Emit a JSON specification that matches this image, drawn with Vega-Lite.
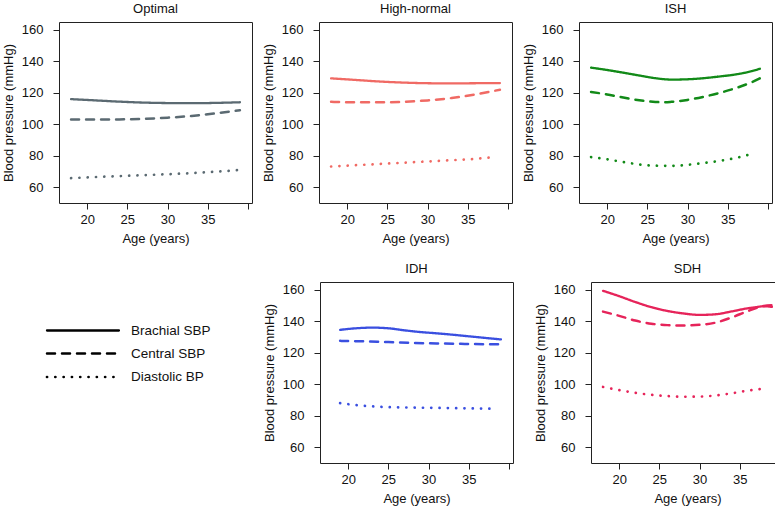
{
"$schema": "https://vega.github.io/schema/vega-lite/v6.json",
"background": "white",
"padding": {"left": 1, "top": 2, "right": 0, "bottom": 0},
"config": {
  "font": "Liberation Sans",
  "view": {"stroke": "#222", "strokeWidth": 1},
  "axis": {"domain": false, "grid": false, "tickColor": "#222", "tickSize": 6, "labelFontSize": 13, "titleFontSize": 13, "labelColor": "#111", "titleColor": "#111", "titleFontWeight": "normal"},
  "axisY": {"labelPadding": 10, "titlePadding": 6},
  "axisX": {"labelPadding": 4, "titlePadding": 6},
  "title": {"fontSize": 13, "fontWeight": "normal", "offset": 6, "color": "#111"},
  "line": {"strokeCap": "round", "interpolate": "monotone"}
},
"datasets": {"bp": [
  {"g":"Optimal","m":"Brachial SBP","age":18,"bp":116},{"g":"Optimal","m":"Brachial SBP","age":21,"bp":115.2},{"g":"Optimal","m":"Brachial SBP","age":24,"bp":114.4},{"g":"Optimal","m":"Brachial SBP","age":27,"bp":113.8},{"g":"Optimal","m":"Brachial SBP","age":30,"bp":113.5},{"g":"Optimal","m":"Brachial SBP","age":33,"bp":113.4},{"g":"Optimal","m":"Brachial SBP","age":36,"bp":113.6},{"g":"Optimal","m":"Brachial SBP","age":39,"bp":114},
  {"g":"Optimal","m":"Central SBP","age":18,"bp":103},{"g":"Optimal","m":"Central SBP","age":21,"bp":103},{"g":"Optimal","m":"Central SBP","age":24,"bp":103.1},{"g":"Optimal","m":"Central SBP","age":27,"bp":103.5},{"g":"Optimal","m":"Central SBP","age":30,"bp":104.2},{"g":"Optimal","m":"Central SBP","age":33,"bp":105.3},{"g":"Optimal","m":"Central SBP","age":36,"bp":107},{"g":"Optimal","m":"Central SBP","age":39,"bp":109},
  {"g":"Optimal","m":"Diastolic BP","age":18,"bp":65.8},{"g":"Optimal","m":"Diastolic BP","age":21,"bp":66.5},{"g":"Optimal","m":"Diastolic BP","age":24,"bp":67.1},{"g":"Optimal","m":"Diastolic BP","age":27,"bp":67.7},{"g":"Optimal","m":"Diastolic BP","age":30,"bp":68.3},{"g":"Optimal","m":"Diastolic BP","age":33,"bp":69},{"g":"Optimal","m":"Diastolic BP","age":36,"bp":69.9},{"g":"Optimal","m":"Diastolic BP","age":39,"bp":71},
  {"g":"High-normal","m":"Brachial SBP","age":18,"bp":129.2},{"g":"High-normal","m":"Brachial SBP","age":21,"bp":128.2},{"g":"High-normal","m":"Brachial SBP","age":24,"bp":127.2},{"g":"High-normal","m":"Brachial SBP","age":27,"bp":126.5},{"g":"High-normal","m":"Brachial SBP","age":30,"bp":126.1},{"g":"High-normal","m":"Brachial SBP","age":33,"bp":126},{"g":"High-normal","m":"Brachial SBP","age":36,"bp":126.1},{"g":"High-normal","m":"Brachial SBP","age":39,"bp":126.2},
  {"g":"High-normal","m":"Central SBP","age":18,"bp":114.3},{"g":"High-normal","m":"Central SBP","age":21,"bp":114},{"g":"High-normal","m":"Central SBP","age":24,"bp":114},{"g":"High-normal","m":"Central SBP","age":27,"bp":114.3},{"g":"High-normal","m":"Central SBP","age":30,"bp":115.2},{"g":"High-normal","m":"Central SBP","age":33,"bp":116.7},{"g":"High-normal","m":"Central SBP","age":36,"bp":119},{"g":"High-normal","m":"Central SBP","age":39,"bp":122},
  {"g":"High-normal","m":"Diastolic BP","age":18,"bp":73.2},{"g":"High-normal","m":"Diastolic BP","age":21,"bp":74},{"g":"High-normal","m":"Diastolic BP","age":24,"bp":74.8},{"g":"High-normal","m":"Diastolic BP","age":27,"bp":75.6},{"g":"High-normal","m":"Diastolic BP","age":30,"bp":76.4},{"g":"High-normal","m":"Diastolic BP","age":33,"bp":77.2},{"g":"High-normal","m":"Diastolic BP","age":36,"bp":78.1},{"g":"High-normal","m":"Diastolic BP","age":38,"bp":79},
  {"g":"ISH","m":"Brachial SBP","age":18,"bp":136},{"g":"ISH","m":"Brachial SBP","age":20,"bp":134.5},{"g":"ISH","m":"Brachial SBP","age":22,"bp":132.8},{"g":"ISH","m":"Brachial SBP","age":24,"bp":131},{"g":"ISH","m":"Brachial SBP","age":26,"bp":129.3},{"g":"ISH","m":"Brachial SBP","age":28,"bp":128.4},{"g":"ISH","m":"Brachial SBP","age":30,"bp":128.6},{"g":"ISH","m":"Brachial SBP","age":32,"bp":129.3},{"g":"ISH","m":"Brachial SBP","age":34,"bp":130.4},{"g":"ISH","m":"Brachial SBP","age":36,"bp":131.7},{"g":"ISH","m":"Brachial SBP","age":38,"bp":133.8},{"g":"ISH","m":"Brachial SBP","age":39,"bp":135.3},
  {"g":"ISH","m":"Central SBP","age":18,"bp":120.5},{"g":"ISH","m":"Central SBP","age":20,"bp":119},{"g":"ISH","m":"Central SBP","age":22,"bp":117},{"g":"ISH","m":"Central SBP","age":24,"bp":115.3},{"g":"ISH","m":"Central SBP","age":26,"bp":114.2},{"g":"ISH","m":"Central SBP","age":27,"bp":114},{"g":"ISH","m":"Central SBP","age":28,"bp":114.3},{"g":"ISH","m":"Central SBP","age":30,"bp":115.5},{"g":"ISH","m":"Central SBP","age":32,"bp":117.5},{"g":"ISH","m":"Central SBP","age":34,"bp":120},{"g":"ISH","m":"Central SBP","age":36,"bp":123},{"g":"ISH","m":"Central SBP","age":38,"bp":126.8},{"g":"ISH","m":"Central SBP","age":39,"bp":129.2},
  {"g":"ISH","m":"Diastolic BP","age":18,"bp":79.2},{"g":"ISH","m":"Diastolic BP","age":20,"bp":77.8},{"g":"ISH","m":"Diastolic BP","age":22,"bp":76},{"g":"ISH","m":"Diastolic BP","age":24,"bp":74.5},{"g":"ISH","m":"Diastolic BP","age":26,"bp":73.7},{"g":"ISH","m":"Diastolic BP","age":28,"bp":73.6},{"g":"ISH","m":"Diastolic BP","age":30,"bp":74.3},{"g":"ISH","m":"Diastolic BP","age":32,"bp":75.4},{"g":"ISH","m":"Diastolic BP","age":34,"bp":76.8},{"g":"ISH","m":"Diastolic BP","age":36,"bp":78.6},{"g":"ISH","m":"Diastolic BP","age":38,"bp":81.2},
  {"g":"IDH","m":"Brachial SBP","age":19,"bp":134.6},{"g":"IDH","m":"Brachial SBP","age":21,"bp":135.6},{"g":"IDH","m":"Brachial SBP","age":23,"bp":136},{"g":"IDH","m":"Brachial SBP","age":25,"bp":135.6},{"g":"IDH","m":"Brachial SBP","age":27,"bp":134.3},{"g":"IDH","m":"Brachial SBP","age":29,"bp":133.2},{"g":"IDH","m":"Brachial SBP","age":31,"bp":132.4},{"g":"IDH","m":"Brachial SBP","age":33,"bp":131.5},{"g":"IDH","m":"Brachial SBP","age":35,"bp":130.5},{"g":"IDH","m":"Brachial SBP","age":37,"bp":129.5},{"g":"IDH","m":"Brachial SBP","age":39,"bp":128.5},
  {"g":"IDH","m":"Central SBP","age":19,"bp":127.6},{"g":"IDH","m":"Central SBP","age":22,"bp":127.3},{"g":"IDH","m":"Central SBP","age":25,"bp":126.8},{"g":"IDH","m":"Central SBP","age":28,"bp":126.3},{"g":"IDH","m":"Central SBP","age":31,"bp":126},{"g":"IDH","m":"Central SBP","age":34,"bp":125.7},{"g":"IDH","m":"Central SBP","age":37,"bp":125.5},{"g":"IDH","m":"Central SBP","age":39,"bp":125.5},
  {"g":"IDH","m":"Diastolic BP","age":19,"bp":88},{"g":"IDH","m":"Diastolic BP","age":21,"bp":86.8},{"g":"IDH","m":"Diastolic BP","age":23,"bp":86},{"g":"IDH","m":"Diastolic BP","age":25,"bp":85.5},{"g":"IDH","m":"Diastolic BP","age":28,"bp":85.2},{"g":"IDH","m":"Diastolic BP","age":31,"bp":85},{"g":"IDH","m":"Diastolic BP","age":34,"bp":84.8},{"g":"IDH","m":"Diastolic BP","age":36,"bp":84.6},{"g":"IDH","m":"Diastolic BP","age":38,"bp":84.5},
  {"g":"SDH","m":"Brachial SBP","age":18,"bp":159.4},{"g":"SDH","m":"Brachial SBP","age":20,"bp":156},{"g":"SDH","m":"Brachial SBP","age":22,"bp":152.3},{"g":"SDH","m":"Brachial SBP","age":24,"bp":149},{"g":"SDH","m":"Brachial SBP","age":26,"bp":146.6},{"g":"SDH","m":"Brachial SBP","age":28,"bp":145},{"g":"SDH","m":"Brachial SBP","age":30,"bp":144.1},{"g":"SDH","m":"Brachial SBP","age":32,"bp":144.5},{"g":"SDH","m":"Brachial SBP","age":34,"bp":146.3},{"g":"SDH","m":"Brachial SBP","age":36,"bp":148.3},{"g":"SDH","m":"Brachial SBP","age":37,"bp":149},{"g":"SDH","m":"Brachial SBP","age":38,"bp":149.6},{"g":"SDH","m":"Brachial SBP","age":39,"bp":149.2},
  {"g":"SDH","m":"Central SBP","age":18,"bp":146.2},{"g":"SDH","m":"Central SBP","age":20,"bp":143.5},{"g":"SDH","m":"Central SBP","age":22,"bp":140.5},{"g":"SDH","m":"Central SBP","age":24,"bp":138.5},{"g":"SDH","m":"Central SBP","age":26,"bp":137.6},{"g":"SDH","m":"Central SBP","age":28,"bp":137.4},{"g":"SDH","m":"Central SBP","age":30,"bp":137.8},{"g":"SDH","m":"Central SBP","age":32,"bp":139.2},{"g":"SDH","m":"Central SBP","age":34,"bp":142.5},{"g":"SDH","m":"Central SBP","age":36,"bp":146.5},{"g":"SDH","m":"Central SBP","age":38,"bp":149.8},{"g":"SDH","m":"Central SBP","age":39,"bp":150.2},
  {"g":"SDH","m":"Diastolic BP","age":18,"bp":98.3},{"g":"SDH","m":"Diastolic BP","age":20,"bp":96.3},{"g":"SDH","m":"Diastolic BP","age":22,"bp":94.6},{"g":"SDH","m":"Diastolic BP","age":24,"bp":93.3},{"g":"SDH","m":"Diastolic BP","age":26,"bp":92.5},{"g":"SDH","m":"Diastolic BP","age":28,"bp":92.1},{"g":"SDH","m":"Diastolic BP","age":30,"bp":92.2},{"g":"SDH","m":"Diastolic BP","age":32,"bp":92.9},{"g":"SDH","m":"Diastolic BP","age":34,"bp":94.3},{"g":"SDH","m":"Diastolic BP","age":36,"bp":96},{"g":"SDH","m":"Diastolic BP","age":38,"bp":97.2}
]},
"spacing": 16,
"vconcat": [
  {"spacing": 8, "align": "none", "hconcat": [
    {"title": "Optimal", "width": 193, "height": 181, "data": {"name": "bp"}, "transform": [{"filter": "datum.g == 'Optimal'"}], "mark": "line",
     "encoding": {
       "x": {"field": "age", "type": "quantitative", "scale": {"domain": [16.5, 40.5], "nice": false, "zero": false}, "axis": {"values": [20,25,30,35,40], "labelExpr": "datum.value == 40 ? '' : datum.label", "title": "Age (years)"}},
       "y": {"field": "bp", "type": "quantitative", "scale": {"domain": [50, 165], "nice": false, "zero": false}, "axis": {"values": [60,80,100,120,140,160], "title": "Blood pressure (mmHg)"}},
       "color": {"value": "#5b6a72"},
       "strokeDash": {"field": "m", "type": "nominal", "scale": {"domain": ["Brachial SBP","Central SBP","Diastolic BP"], "range": [[1,0],[8,7],[0.1,8.2]]},
         "legend": {"orient": "none", "legendX": -21, "legendY": 300, "title": null, "symbolType": "M0,0H10", "symbolSize": 207, "symbolStrokeColor": "black", "symbolStrokeWidth": 3.6, "labelFontSize": 13.5, "labelOffset": 75, "labelColor": "#111", "rowPadding": 8,
           "encode": {"symbols": {"update": {"strokeDash": {"signal": "datum.value == 'Central SBP' ? [11.5,17.3] : datum.value == 'Diastolic BP' ? [0.1,14.3] : [1,0]"}, "strokeCap": {"value": "round"}}}}}},
       "strokeWidth": {"field": "m", "type": "nominal", "scale": {"domain": ["Brachial SBP","Central SBP","Diastolic BP"], "range": [2.3,2.7,2]}, "legend": null}
     }},
    {"title": "High-normal", "width": 193, "height": 181, "data": {"name": "bp"}, "transform": [{"filter": "datum.g == 'High-normal'"}], "mark": "line",
     "encoding": {
       "x": {"field": "age", "type": "quantitative", "scale": {"domain": [16.5, 40.5], "nice": false, "zero": false}, "axis": {"values": [20,25,30,35,40], "labelExpr": "datum.value == 40 ? '' : datum.label", "title": "Age (years)"}},
       "y": {"field": "bp", "type": "quantitative", "scale": {"domain": [50, 165], "nice": false, "zero": false}, "axis": {"values": [60,80,100,120,140,160], "title": "Blood pressure (mmHg)"}},
       "color": {"value": "#f06a64"},
       "strokeDash": {"field": "m", "type": "nominal"},
       "strokeWidth": {"field": "m", "type": "nominal", "legend": null}
     }},
    {"title": "ISH", "width": 193, "height": 181, "data": {"name": "bp"}, "transform": [{"filter": "datum.g == 'ISH'"}], "mark": "line",
     "encoding": {
       "x": {"field": "age", "type": "quantitative", "scale": {"domain": [16.5, 40.5], "nice": false, "zero": false}, "axis": {"values": [20,25,30,35,40], "labelExpr": "datum.value == 40 ? '' : datum.label", "title": "Age (years)"}},
       "y": {"field": "bp", "type": "quantitative", "scale": {"domain": [50, 165], "nice": false, "zero": false}, "axis": {"values": [60,80,100,120,140,160], "title": "Blood pressure (mmHg)"}},
       "color": {"value": "#128a18"},
       "strokeDash": {"field": "m", "type": "nominal"},
       "strokeWidth": {"field": "m", "type": "nominal", "legend": null}
     }}
  ]},
  {"spacing": 19, "align": "none", "hconcat": [
    {"width": 184, "height": 181, "view": {"stroke": null}, "data": {"values": [{}]}, "mark": {"type": "point", "opacity": 0}, "encoding": {}},
    {"title": "IDH", "width": 193, "height": 181, "data": {"name": "bp"}, "transform": [{"filter": "datum.g == 'IDH'"}], "mark": "line",
     "encoding": {
       "x": {"field": "age", "type": "quantitative", "scale": {"domain": [16.5, 40.5], "nice": false, "zero": false}, "axis": {"values": [20,25,30,35,40], "labelExpr": "datum.value == 40 ? '' : datum.label", "title": "Age (years)"}},
       "y": {"field": "bp", "type": "quantitative", "scale": {"domain": [50, 165], "nice": false, "zero": false}, "axis": {"values": [60,80,100,120,140,160], "title": "Blood pressure (mmHg)"}},
       "color": {"value": "#3a4fe0"},
       "strokeDash": {"field": "m", "type": "nominal"},
       "strokeWidth": {"field": "m", "type": "nominal", "legend": null}
     }},
    {"title": "SDH", "width": 193, "height": 181, "data": {"name": "bp"}, "transform": [{"filter": "datum.g == 'SDH'"}], "mark": "line",
     "encoding": {
       "x": {"field": "age", "type": "quantitative", "scale": {"domain": [16.5, 40.5], "nice": false, "zero": false}, "axis": {"values": [20,25,30,35,40], "labelExpr": "datum.value == 40 ? '' : datum.label", "title": "Age (years)"}},
       "y": {"field": "bp", "type": "quantitative", "scale": {"domain": [50, 165], "nice": false, "zero": false}, "axis": {"values": [60,80,100,120,140,160], "title": "Blood pressure (mmHg)"}},
       "color": {"value": "#e6245a"},
       "strokeDash": {"field": "m", "type": "nominal"},
       "strokeWidth": {"field": "m", "type": "nominal", "legend": null}
     }}
  ]}
]
}
